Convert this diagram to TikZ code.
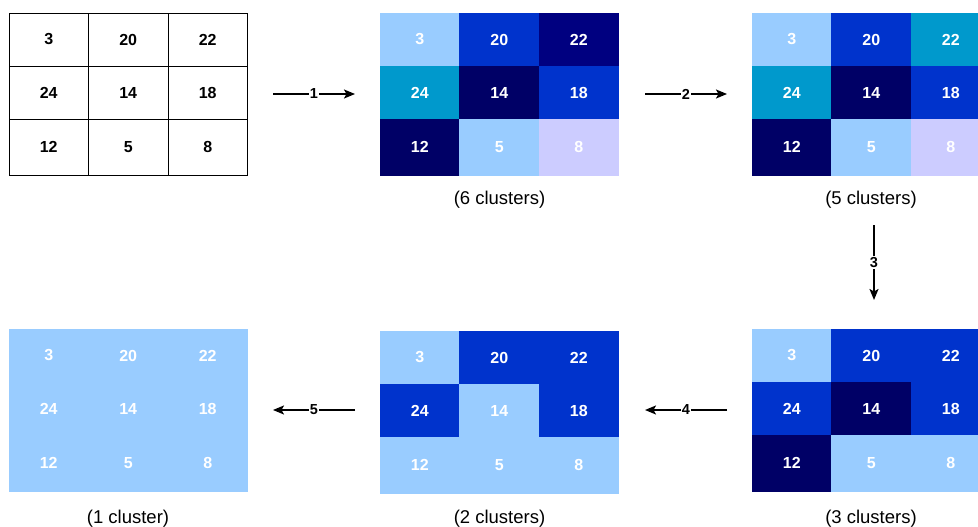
\documentclass[tikz,border=0pt]{standalone}
\usepackage{fontspec}
\setmainfont{Liberation Sans}
\usetikzlibrary{arrows.meta}

\definecolor{cLight}{HTML}{99CCFF}
\definecolor{cBlue}{HTML}{0033CC}
\definecolor{cNavy}{HTML}{000080}
\definecolor{cDeep}{HTML}{000066}
\definecolor{cTeal}{HTML}{0099CC}
\definecolor{cLav}{HTML}{CCCCFF}

\tikzset{
  cellbox/.style={inner sep=0pt, minimum width=79.5pt, text=white,
    font=\fontsize{16pt}{18pt}\selectfont\bfseries},
  plaincell/.style={fill=white, draw=black, line width=0.8pt, text=black},
  caption/.style={font=\fontsize{18.5pt}{21pt}\selectfont, inner sep=0pt},
  flow/.style={line width=1.8pt, -{Stealth[length=11pt,width=9pt,inset=2.5pt]}},
  flowlabel/.style={fill=white, inner sep=1pt,
    font=\fontsize{14.5pt}{16pt}\selectfont\bfseries},
}

% \panel{prefix}{left}{top}{extra style}{value/colour list}
\newcommand\panel[5]{%
  \foreach \t/\c [count=\i from 0] in {#5}{%
    \pgfmathtruncatemacro\col{mod(\i,3)}%
    \pgfmathtruncatemacro\row{div(\i,3)}%
    \pgfmathsetmacro\cx{#2+79.5*\col+39.75}%
    \pgfmathsetmacro\cy{#3+53*\row+(\row==2 ? 28 : 26.5)+0.8}%
    \pgfmathsetmacro\ch{\row==2 ? 56 : 53}%
    \node[cellbox, fill=\c, draw=\c, minimum height=\ch pt, #4] (#1-\i) at (\cx,\cy) {\t};
  }%
}

\begin{document}
\begin{tikzpicture}[x=1pt, y=-1pt]
\useasboundingbox (0,0) rectangle (978,527);
\clip (0,0) rectangle (978,527);

% original values
\panel{ga}{9}{12.2}{plaincell}{3/white,20/white,22/white,24/white,14/white,18/white,12/white,5/white,8/white}

% 6 clusters
\panel{gb}{380}{12.2}{}{3/cLight,20/cBlue,22/cNavy,24/cTeal,14/cDeep,18/cBlue,12/cDeep,5/cLight,8/cLav}
\node[caption] (capb) at (499.5,199.5) {(6 clusters)};

% 5 clusters
\panel{gc}{752}{12.2}{}{3/cLight,20/cBlue,22/cTeal,24/cTeal,14/cDeep,18/cBlue,12/cDeep,5/cLight,8/cLav}
\node[caption] (capc) at (871,199.5) {(5 clusters)};

% 3 clusters
\panel{gd}{752}{328.2}{}{3/cLight,20/cBlue,22/cBlue,24/cBlue,14/cDeep,18/cBlue,12/cDeep,5/cLight,8/cLight}
\node[caption] (capd) at (871,518.5) {(3 clusters)};

% 2 clusters
\panel{ge}{380}{330.2}{}{3/cLight,20/cBlue,22/cBlue,24/cBlue,14/cLight,18/cBlue,12/cLight,5/cLight,8/cLight}
\node[caption] (cape) at (499.5,518.5) {(2 clusters)};

% 1 cluster
\panel{gf}{9}{328.2}{}{3/cLight,20/cLight,22/cLight,24/cLight,14/cLight,18/cLight,12/cLight,5/cLight,8/cLight}
\node[caption] (capf) at (128,518.5) {(1 cluster)};

% merge steps
\coordinate (s1a) at (273,94);    \coordinate (s1b) at (355,94);
\coordinate (s2a) at (645,94);    \coordinate (s2b) at (727,94);
\coordinate (s3a) at (874,225);   \coordinate (s3b) at (874,300);
\coordinate (s4a) at (727,410);   \coordinate (s4b) at (645,410);
\coordinate (s5a) at (355,410);   \coordinate (s5b) at (273,410);

\draw[flow] (s1a) -- node[flowlabel] (l1) {1} (s1b);
\draw[flow] (s2a) -- node[flowlabel] (l2) {2} (s2b);
\draw[flow] (s3a) -- node[flowlabel] (l3) {3} (s3b);
\draw[flow] (s4a) -- node[flowlabel] (l4) {4} (s4b);
\draw[flow] (s5a) -- node[flowlabel] (l5) {5} (s5b);
\end{tikzpicture}
\end{document}
